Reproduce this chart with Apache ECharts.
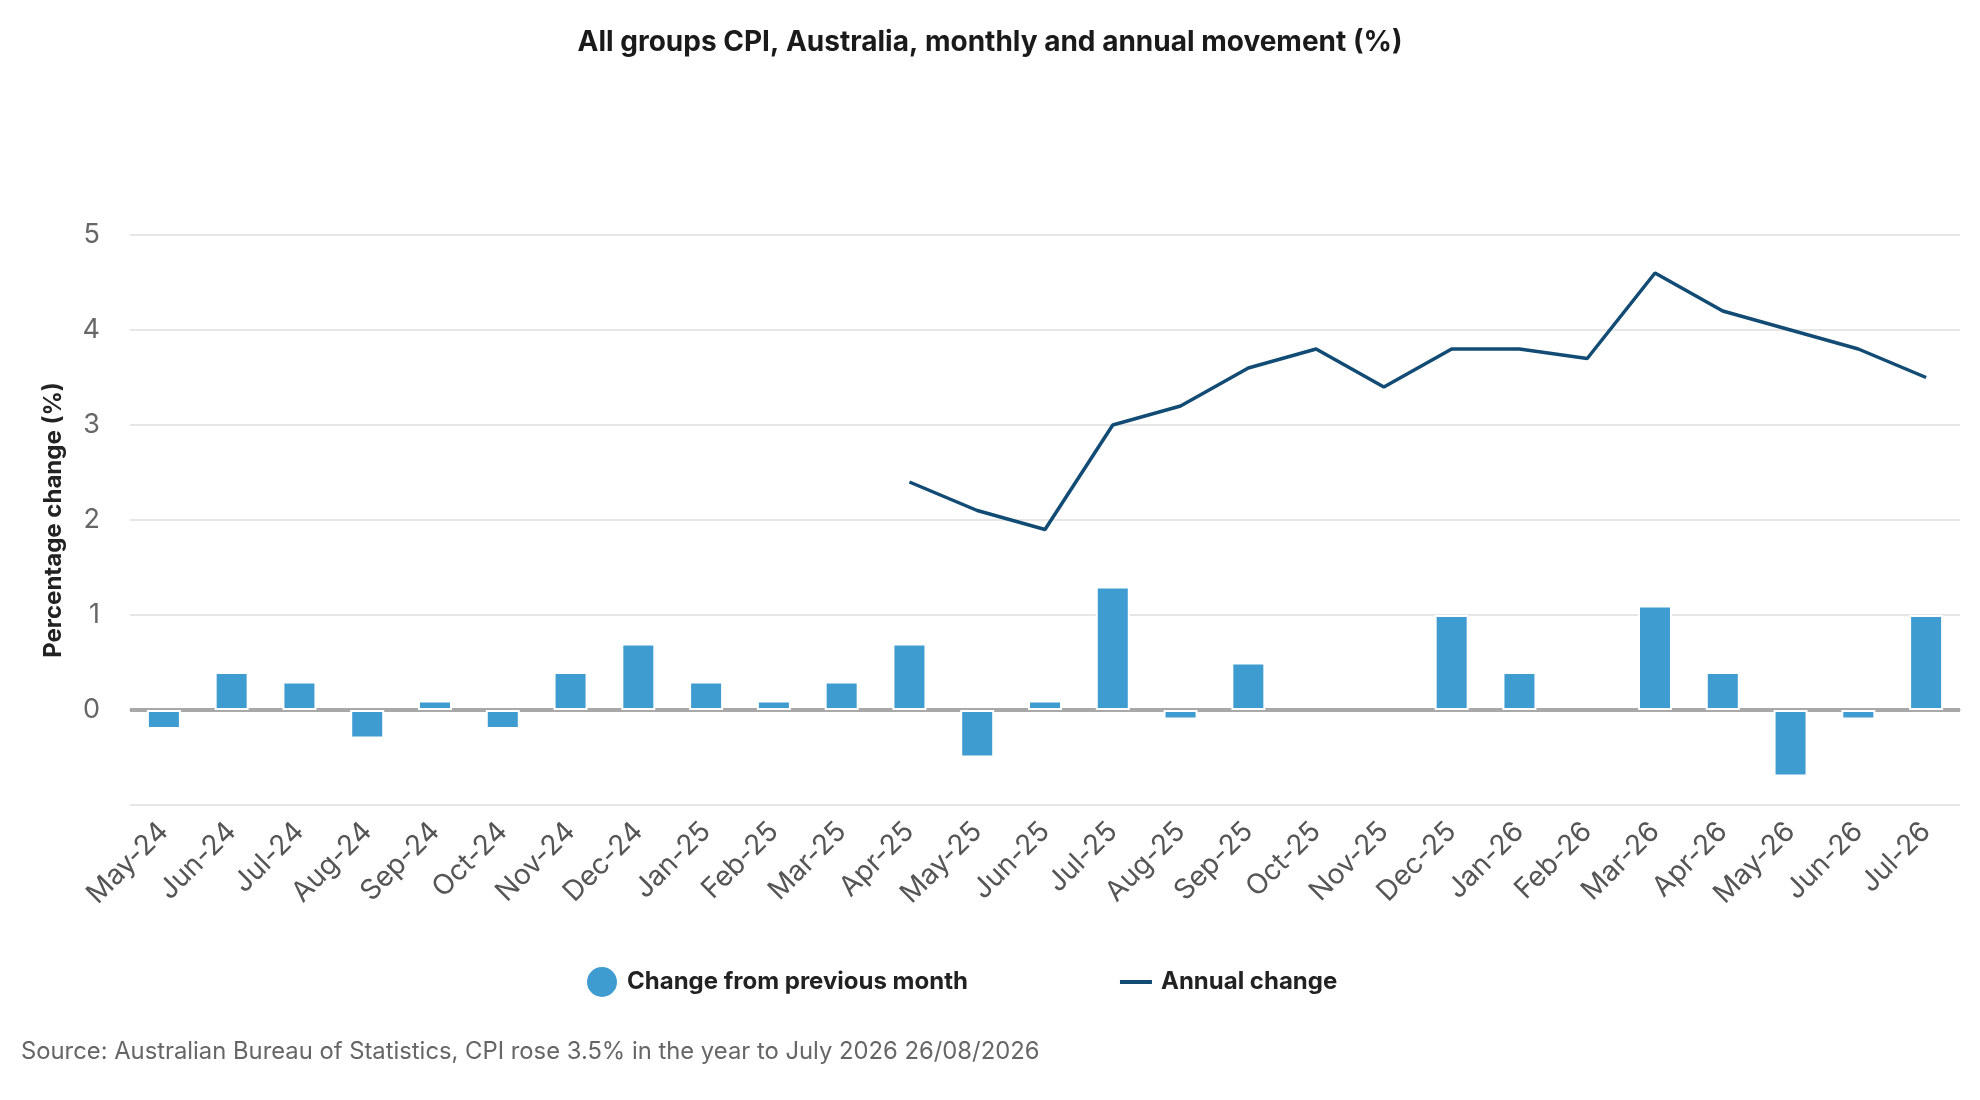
<!DOCTYPE html>
<html style="height: 100%" lang="en">
<head>
    <meta charset="utf-8">
    <script type="text/javascript" src="https://cdn.jsdelivr.net/npm/echarts@6/dist/echarts.min.js"></script>
</head>
<body style="height: 100%; margin: 0; background: #fff">
<div id="container" style="width: 1980px; height: 1100px"></div>
<script type="text/javascript">
    // months on the x axis
    var months = ['May-24', 'Jun-24', 'Jul-24', 'Aug-24', 'Sep-24', 'Oct-24', 'Nov-24', 'Dec-24',
        'Jan-25', 'Feb-25', 'Mar-25', 'Apr-25', 'May-25', 'Jun-25', 'Jul-25', 'Aug-25', 'Sep-25',
        'Oct-25', 'Nov-25', 'Dec-25', 'Jan-26', 'Feb-26', 'Mar-26', 'Apr-26', 'May-26', 'Jun-26', 'Jul-26'];
    // change from previous month (%)
    var monthly = [-0.2, 0.4, 0.3, -0.3, 0.1, -0.2, 0.4, 0.7,
        0.3, 0.1, 0.3, 0.7, -0.5, 0.1, 1.3, -0.1, 0.5,
        0.0, 0.0, 1.0, 0.4, 0.0, 1.1, 0.4, -0.7, -0.1, 1.0];
    // annual change (%), series starts Apr-25
    var annual = [null, null, null, null, null, null, null, null,
        null, null, null, 2.4, 2.1, 1.9, 3.0, 3.2, 3.6,
        3.8, 3.4, 3.8, 3.8, 3.7, 4.6, 4.2, 4.0, 3.8, 3.5];
    var yTicks = [-1, 0, 1, 2, 3, 4, 5];

    var font = 'Inter, "Noto Sans", sans-serif';
    var dom = document.getElementById("container");
    var myChart = echarts.init(dom, null, {renderer: 'canvas'});

    // zero-height bars get no white edge so the zero line stays whole
    var barData = monthly.map(function (v) {
        return v === 0 ? {value: v, itemStyle: {borderWidth: 0}} : v;
    });

    var option = {
        backgroundColor: '#fff',
        textStyle: {fontFamily: font},
        animation: false,
        title: {
            text: 'All groups CPI, Australia, monthly and annual movement (%)',
            left: 'center',
            top: 24,
            textStyle: {fontFamily: font, fontSize: 28, fontWeight: 'bold', color: '#1a1a1a'}
        },
        legend: {
            data: [
                {name: 'Change from previous month', icon: 'circle'},
                {name: 'Annual change', icon: 'path://M0,0 H31 V4 H0 Z'}
            ],
            left: 580,
            top: 960,
            itemWidth: 32,
            itemHeight: 32,
            itemGap: 152,
            textStyle: {fontFamily: font, fontSize: 24, fontWeight: 'bold', color: '#222', padding: [0, 0, 0, 4]}
        },
        grid: {left: 130, right: 20, top: 235, bottom: 295},
        xAxis: {
            type: 'category',
            data: months,
            axisLine: {lineStyle: {color: '#ccd6eb', width: 2}},
            axisTick: {show: false},
            axisLabel: {
                interval: 0,
                rotate: 45,
                margin: 22,
                fontFamily: font,
                fontSize: 28,
                color: '#555'
            }
        },
        yAxis: {
            type: 'value',
            min: yTicks[0],
            max: yTicks[yTicks.length - 1],
            interval: 1,
            name: 'Percentage change (%)',
            nameLocation: 'middle',
            nameGap: 64,
            nameTextStyle: {fontFamily: font, fontSize: 24, fontWeight: 'bold', color: '#222'},
            axisLine: {show: false},
            axisTick: {show: false},
            axisLabel: {
                margin: 30,
                fontFamily: font,
                fontSize: 27,
                color: '#666',
                formatter: function (v) {
                    return v < 0 ? '' : String(v);
                }
            },
            splitLine: {lineStyle: {color: '#e6e6e6', width: 2}}
        },
        series: [
            {
                name: 'Change from previous month',
                type: 'bar',
                data: barData,
                barWidth: 34,
                z: 3,
                itemStyle: {color: '#3e9cd1', borderColor: '#fff', borderWidth: 2},
                markLine: {
                    silent: true,
                    z: 1,
                    symbol: 'none',
                    label: {show: false},
                    lineStyle: {color: '#a8a8a8', width: 4, type: 'solid'},
                    data: [{yAxis: 0}]
                }
            },
            {
                name: 'Annual change',
                type: 'line',
                data: annual,
                symbol: 'none',
                z: 4,
                itemStyle: {color: '#124b73'},
                lineStyle: {color: '#124b73', width: 3.5}
            }
        ],
        graphic: [{
            type: 'text',
            left: 21,
            top: 1040,
            style: {
                text: 'Source: Australian Bureau of Statistics, CPI rose 3.5% in the year to July 2026 26/08/2026',
                fontFamily: font,
                fontSize: 23.8,
                fill: '#666'
            }
        }]
    };

    if (option && typeof option === "object") {
        myChart.setOption(option, true);
    }
</script>
</body>
</html>
